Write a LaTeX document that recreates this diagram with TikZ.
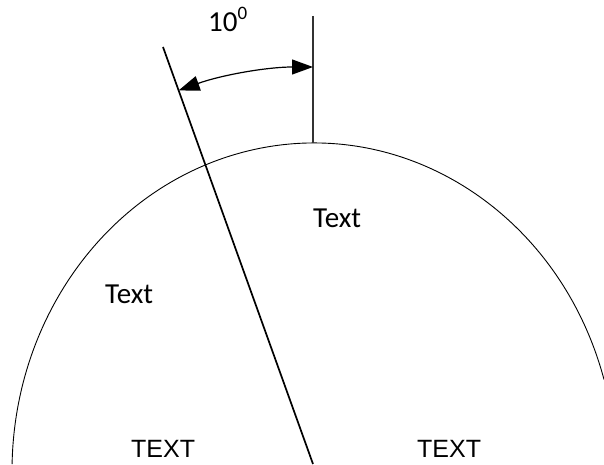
\documentclass[tikz,border=0pt]{standalone}
\usepackage{fontspec}
\setmainfont{Carlito}
\newfontfamily\arialf{Liberation Sans}
\usetikzlibrary{arrows.meta}
\begin{document}
\begin{tikzpicture}[x=1pt,y=1pt,
  thinline/.style={line width=0.9pt,black},
  refline/.style={line width=1.4pt,black!80},
  slantline/.style={line width=1.7pt,black},
  anglearrow/.style={line width=1.2pt,black,
    {Triangle[length=21pt,width=15pt]}-{Triangle[length=21pt,width=15pt]}},
  calib/.style={inner sep=0pt,font=\fontsize{29}{29}\selectfont},
  arial/.style={inner sep=0pt,font=\arialf\fontsize{25}{25}\selectfont}]
\useasboundingbox (0,0) rectangle (604,464);
% coordinates
\coordinate (vtop) at (313,448);
\coordinate (vbot) at (313,321);
\coordinate (stop) at (163,417);
\coordinate (pivot) at (313,0);
\coordinate (arcstart) at (604,84.5);
\coordinate (a1) at (313,397);
% dome
\draw[thinline] (arcstart) arc[start angle=16.2,end angle=178.8,x radius=302,y radius=328];
% reference lines
\draw[refline] (vtop) -- (vbot);
\draw[slantline] (stop) -- (pivot);
% angle arrow
\draw[anglearrow] (a1) arc[start angle=90,end angle=109.8,radius=397];
% labels
\node[calib,anchor=base west] (ang) at (208,432) {10\raisebox{12pt}{\fontsize{19}{19}\selectfont 0}};
\node[calib,anchor=base west] (t1) at (313,237) {Text};
\node[calib,anchor=base west] (t2) at (105,161) {Text};
\node[arial,anchor=base west] (T1) at (131,7) {TEXT};
\node[arial,anchor=base west] (T2) at (417,7) {TEXT};
\end{tikzpicture}
\end{document}
